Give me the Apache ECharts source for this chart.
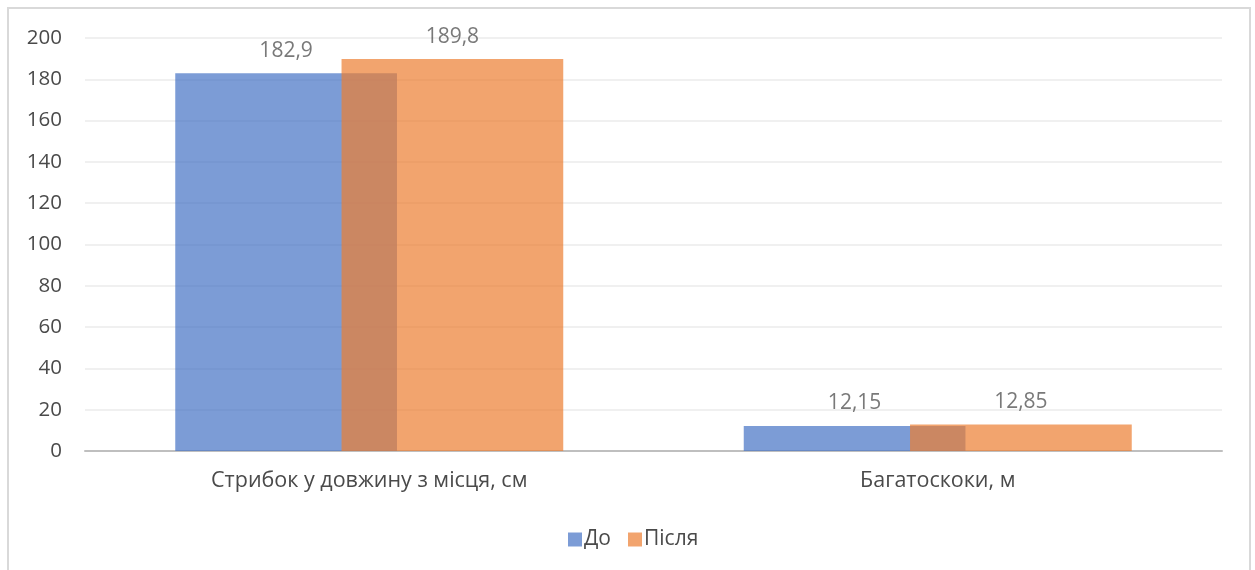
<!DOCTYPE html>
<html><head><meta charset="utf-8">
<script src="https://cdn.jsdelivr.net/npm/echarts@6/dist/echarts.min.js"></script>
<style>html,body{margin:0;padding:0;background:#fff}#c{width:1255px;height:570px}</style>
</head><body><div id="c"></div>
<script>
const categories = ['Стрибок у довжину з місця, см', 'Багатоскоки, м'];
const seriesNames = ['До', 'Після'];
const before = [182.9, 12.15];
const after = [189.8, 12.85];
const yTicks = [0, 20, 40, 60, 80, 100, 120, 140, 160, 180, 200];

const FONT = 'Open Sans';
const chart = echarts.init(document.getElementById('c'));
const fmt = p => String(p.value).replace('.', ',');
const labelCfg = {show: true, position: 'top', distance: 12, color: '#404040', fontFamily: FONT, fontSize: 21, formatter: fmt};
chart.setOption({
  animation: false,
  graphic: [{type: 'rect', shape: {x: 8, y: 8, width: 1242, height: 620}, style: {fill: 'none', stroke: '#d9d9d9', lineWidth: 2}, silent: true}],
  grid: {left: 85, right: 33, top: 38, bottom: 119},
  legend: {data: seriesNames, left: 563, top: 524, itemWidth: 14, itemHeight: 14, itemGap: 17, icon: 'rect',
    textStyle: {color: '#4a4a4a', fontFamily: FONT, fontSize: 21, padding: [0, 0, 0, -3]}},
  xAxis: {type: 'category', data: categories,
    axisLine: {lineStyle: {color: '#bfbfbf', width: 2}}, axisTick: {show: false},
    axisLabel: {color: '#4a4a4a', fontFamily: FONT, fontSize: 21.5, margin: 19}},
  yAxis: {type: 'value', min: yTicks[0], max: yTicks[yTicks.length - 1], interval: 20,
    axisLine: {show: false}, axisTick: {show: false},
    splitLine: {lineStyle: {color: '#ebebeb', width: 1.5}},
    axisLabel: {color: '#4a4a4a', fontFamily: FONT, fontSize: 20.5, margin: 23}},
  series: [
    {name: seriesNames[0], type: 'bar', data: before, barWidth: '39%', barGap: '-25%',
      itemStyle: {color: '#4472C4', opacity: 0.7}, label: labelCfg},
    {name: seriesNames[1], type: 'bar', data: after, barWidth: '39%', barGap: '-25%',
      itemStyle: {color: '#ED7D31', opacity: 0.7}, label: labelCfg}
  ]
});
</script></body></html>
